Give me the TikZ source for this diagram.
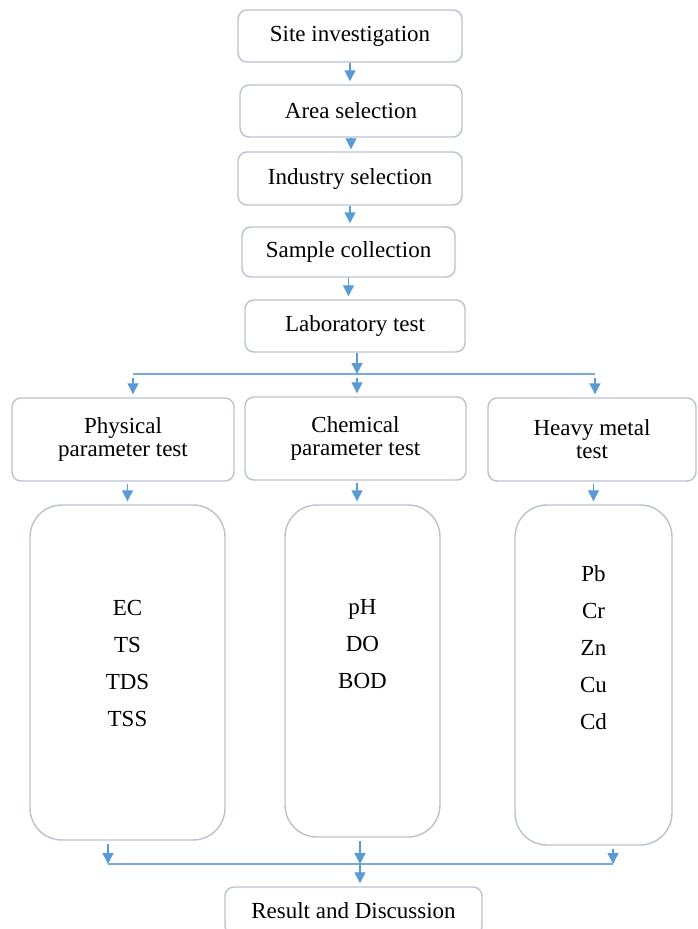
\documentclass[tikz,border=0pt]{standalone}
\usepackage{fontspec}
\setmainfont{Liberation Serif}
\usetikzlibrary{arrows.meta,positioning}
\definecolor{boxline}{RGB}{186,194,208}
\definecolor{arrblue}{RGB}{91,155,213}

\begin{document}
\begin{tikzpicture}[
    x=1pt, y=-1pt,
    stage/.style={draw=boxline, line width=1.4pt, rounded corners=9pt, align=center, inner sep=0pt, font=\fontsize{23}{23}\selectfont},
    param/.style={draw=boxline, line width=1.4pt, rounded corners=32pt, inner sep=0pt},
    vals/.style={align=center, font=\fontsize{23}{37}\selectfont},
    arr/.style={-{Triangle[length=11pt,width=11pt]}, line width=1.3pt, arrblue, shorten >=3pt},
    bus/.style={line width=1.2pt, arrblue!85}
]
\useasboundingbox (0,0) rectangle (697,929);

% main sequence
\node[stage, minimum width=224, minimum height=52] (site) at (350,36) {Site investigation};
\node[stage, minimum width=222, minimum height=52] (area) at (351,111) {Area selection};
\node[stage, minimum width=224, minimum height=53] (industry) at (350,178.5) {Industry selection};
\node[stage, minimum width=213, minimum height=50] (sample) at (348.5,252) {Sample collection};
\node[stage, minimum width=220, minimum height=52] (lab) at (355,326) {Laboratory test};

% three test groups
\node[stage, minimum width=222, minimum height=83] (phys) at (123,439.5) {Physical\\parameter test};
\node[stage, minimum width=221, minimum height=83] (chem) at (355.5,438.5) {Chemical\\parameter test};
\node[stage, minimum width=208, minimum height=83] (heavy) at (592,439.5) {Heavy metal\\test};

\node[param, minimum width=195, minimum height=335] (physval) at (127.5,672.5) {};
\node[param, minimum width=155, minimum height=332] (chemval) at (362.5,671) {};
\node[param, minimum width=157, minimum height=340] (heavyval) at (593.5,675) {};
\node[vals] (physlist) at (127.5,663) {EC\\TS\\TDS\\TSS};
\node[vals] (chemlist) at (362.5,644) {pH\\DO\\BOD};
\node[vals] (heavylist) at (593.5,648) {Pb\\Cr\\Zn\\Cu\\Cd};

\node[stage, minimum width=257, minimum height=48] (result) at (353.5,911) {Result and Discussion};

% bus lines
\coordinate (busL) at (133,374);
\coordinate (busM) at (357,374);
\coordinate (busR) at (595,374);
\coordinate (outL) at (108,864);
\coordinate (outM) at (360,864);
\coordinate (outR) at (613,864);

\draw[arr] (site.south) -- (site.south |- area.north);
\draw[arr, shorten >=2pt] (area.south) -- (area.south |- industry.north);
\draw[arr] (industry.south) -- (industry.south |- sample.north);
\draw[arr] (sample.south) -- (sample.south |- lab.north);
\draw[arr, shorten >=0pt] (lab.south -| busM) -- (busM);

\draw[bus] (busL) -- (busR);
\draw[arr, shorten <=4pt] (busL) -- (busL |- phys.north);
\draw[arr, shorten <=4pt] (busM) -- (busM |- chem.north);
\draw[arr, shorten <=4pt] (busR) -- (busR |- heavy.north);

\draw[arr, shorten <=2pt] (physval.north |- phys.south) -- (physval.north);
\draw[arr, shorten <=2pt] (busM |- chem.south) -- (busM |- chemval.north);
\draw[arr, shorten <=2pt] (heavyval.north |- heavy.south) -- (heavyval.north);

\draw[arr, shorten >=0pt, shorten <=3pt] (outL |- physval.south) -- (outL);
\draw[arr, shorten >=0pt, shorten <=3pt] (outM |- chemval.south) -- (outM);
\draw[arr, shorten >=0pt, shorten <=3pt] (outR |- heavyval.south) -- (outR);
\draw[bus] (outL) -- (outR);
\draw[arr] (outM) -- (outM |- result.north);
\end{tikzpicture}
\end{document}
